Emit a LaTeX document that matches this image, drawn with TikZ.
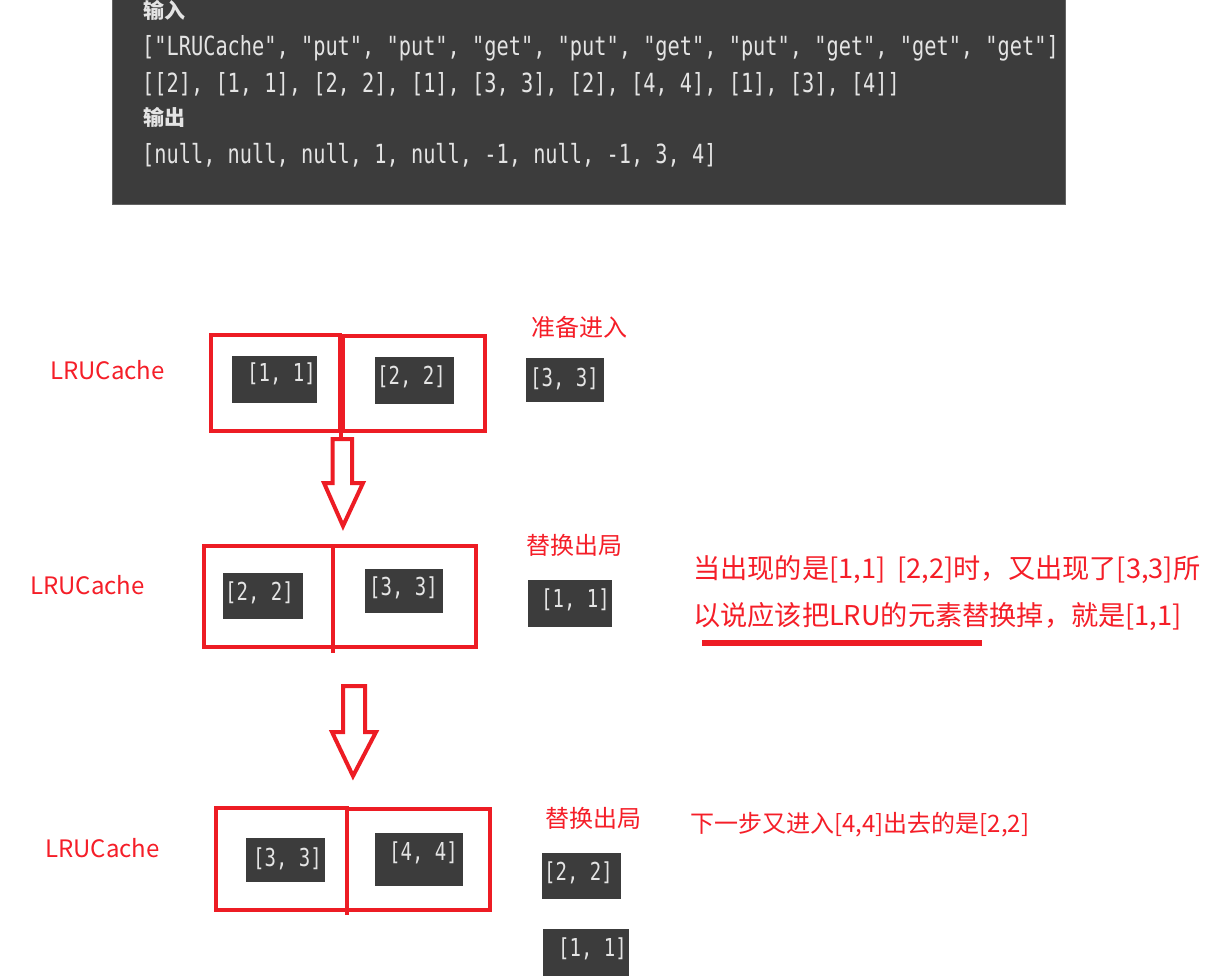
\documentclass[tikz,border=0pt]{standalone}
\usepackage{fontspec}
\newfontfamily\cjk{Noto Sans CJK SC}
\newfontfamily\monofont{DejaVu Sans Mono}
\definecolor{boxred}{RGB}{237,28,36}
\definecolor{txtred}{RGB}{245,30,40}
\definecolor{darkbg}{RGB}{60,60,60}
\definecolor{lighttxt}{RGB}{228,228,228}
\newcommand{\tallmono}[1]{\scalebox{1}[1.3]{#1}}
\tikzset{
  cellbox/.style={draw=boxred, line width=4pt, inner sep=0pt, outer sep=0pt},
  darkbox/.style={fill=darkbg, draw=none, inner sep=0pt, outer sep=0pt},
  boxtext/.style={text=lighttxt, font=\monofont\fontsize{19}{19}\selectfont, inner sep=0pt, anchor=west},
  codetext/.style={text=lighttxt, font=\monofont\fontsize{20.3}{20}\selectfont, inner sep=0pt, anchor=west},
  codetitle/.style={text=lighttxt, font=\cjk\bfseries\fontsize{21}{21}\selectfont, inner sep=0pt, anchor=west},
  redlabel/.style={text=txtred, font=\cjk\fontsize{24}{24}\selectfont, inner sep=0pt, anchor=west},
  notetext/.style={text=txtred, font=\cjk\fontsize{27.2}{27.2}\selectfont, inner sep=0pt, anchor=west},
  blockarrow/.style={draw=boxred, line width=4pt, line join=miter},
  redline/.style={draw=boxred, line width=4pt},
}
\begin{document}
\begin{tikzpicture}[x=1pt,y=-1pt]
\useasboundingbox (0,0) rectangle (1230,979);
\fill[white] (0,0) rectangle (1230,979);

% top code panel
\node[darkbox, draw=darkbg!80!white, line width=1pt, minimum width=953pt, minimum height=205pt, anchor=north west] (panel) at (112,-1) {};
\node[codetitle] (in) at (143,10) {输入};
\node[codetext] (l1) at (142,48) {\tallmono{["LRUCache", "put", "put", "get", "put", "get", "put", "get", "get", "get"]}};
\node[codetext] (l2) at (142,84) {\tallmono{[[2], [1, 1], [2, 2], [1], [3, 3], [2], [4, 4], [1], [3], [4]]}};
\node[codetitle] (out) at (143,117) {输出};
\node[codetext] (l3) at (142,155) {\tallmono{[null, null, null, 1, null, -1, null, -1, 3, 4]}};

% ---------- row 1 ----------
\node[redlabel] (lab1) at (50,370) {LRUCache};
\node[cellbox, minimum width=129pt, minimum height=96pt, anchor=north west] (c1a) at (211,335) {};
\node[cellbox, minimum width=142pt, minimum height=95pt, anchor=north west] (c1b) at (343,336) {};
\node[darkbox, minimum width=85pt, minimum height=47pt, anchor=north west] (d11) at (232,356) {};
\node[boxtext] at (247,374) {\tallmono{[1, 1]}};
\node[darkbox, minimum width=79pt, minimum height=47pt, anchor=north west] (d12) at (375,357) {};
\node[boxtext] at (377,377) {\tallmono{[2, 2]}};
\node[darkbox, minimum width=78pt, minimum height=44pt, anchor=north west] (d13) at (526,358) {};
\node[boxtext] at (530,379) {\tallmono{[3, 3]}};
\node[redlabel] (new1) at (531,327) {准备进入};

% arrow 1
\draw[redline] (341,431) -- (341,439);
\draw[blockarrow] (332.5,439) -- (332.5,483) -- (324,483) -- (343,526) -- (363,483) -- (352,483) -- (352,439) -- cycle;

% ---------- row 2 ----------
\node[redlabel] (lab2) at (30,585) {LRUCache};
\node[cellbox, minimum width=129pt, minimum height=101pt, anchor=north west] (c2a) at (204,546) {};
\node[cellbox, minimum width=143pt, minimum height=101pt, anchor=north west] (c2b) at (333,546) {};
\draw[redline] (333,647) -- (333,653);
\node[darkbox, minimum width=80pt, minimum height=46pt, anchor=north west] (d21) at (223,573) {};
\node[boxtext] at (225,593) {\tallmono{[2, 2]}};
\node[darkbox, minimum width=78pt, minimum height=44pt, anchor=north west] (d22) at (365,569) {};
\node[boxtext] at (369,588) {\tallmono{[3, 3]}};
\node[darkbox, minimum width=84pt, minimum height=47pt, anchor=north west] (d23) at (528,580) {};
\node[boxtext] at (541,600) {\tallmono{[1, 1]}};
\node[redlabel] (out2) at (526,545) {替换出局};
\node[notetext] (note1) at (693,570) {当出现的是[1,1]\ \ [2,2]时，又出现了[3,3]所};
\node[notetext] (note2) at (693,617) {以说应该把LRU的元素替换掉，就是[1,1]};
\draw[boxred, line width=6pt] (702,643) -- (982,643);

% arrow 2
\draw[blockarrow] (343,686) -- (343,732) -- (332,732) -- (353,776) -- (376,732) -- (365,732) -- (365,686) -- cycle;

% ---------- row 3 ----------
\node[redlabel] (lab3) at (45,848) {LRUCache};
\node[cellbox, minimum width=131pt, minimum height=102pt, anchor=north west] (c3a) at (216,808) {};
\node[cellbox, minimum width=143pt, minimum height=101pt, anchor=north west] (c3b) at (347,809) {};
\draw[redline] (347,910) -- (347,915);
\node[darkbox, minimum width=79pt, minimum height=44pt, anchor=north west] (d31) at (246,838) {};
\node[boxtext] at (253,859) {\tallmono{[3, 3]}};
\node[darkbox, minimum width=88pt, minimum height=53pt, anchor=north west] (d32) at (375,833) {};
\node[boxtext] at (389,853) {\tallmono{[4, 4]}};
\node[darkbox, minimum width=79pt, minimum height=46pt, anchor=north west] (d33) at (542,853) {};
\node[boxtext] at (544,873) {\tallmono{[2, 2]}};
\node[darkbox, minimum width=86pt, minimum height=47pt, anchor=north west] (d34) at (543,929) {};
\node[boxtext] at (558,949) {\tallmono{[1, 1]}};
\node[redlabel] (out3) at (545,818) {替换出局};
\node[redlabel] (note3) at (690,825) {下一步又进入[4,4]出去的是[2,2]};
\end{tikzpicture}
\end{document}
